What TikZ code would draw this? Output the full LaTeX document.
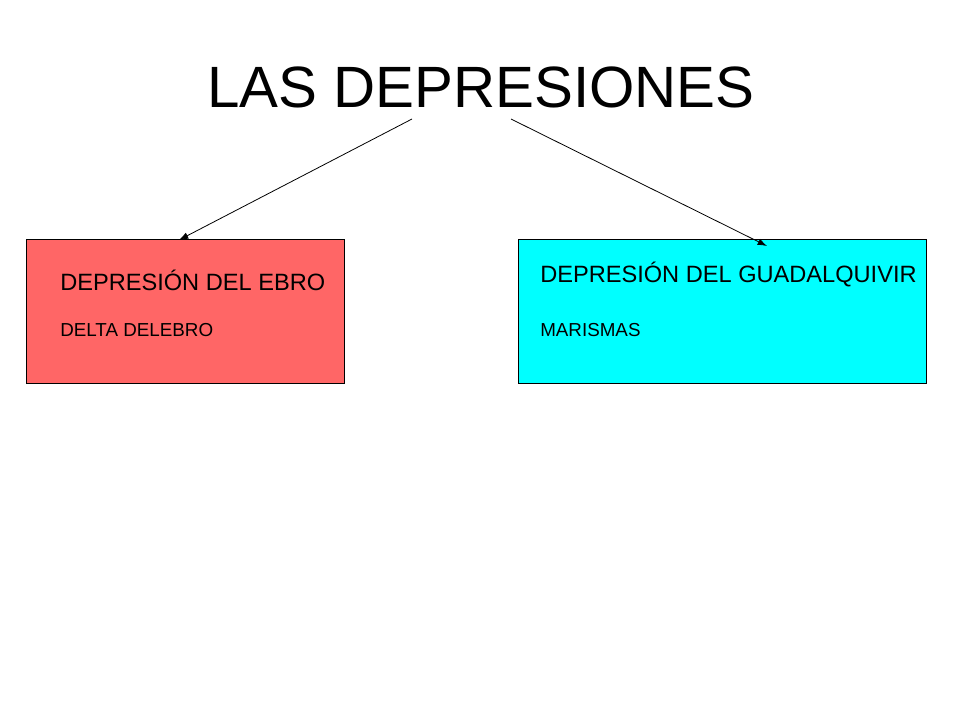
\documentclass[tikz,border=0pt]{standalone}
\usepackage{fontspec}
\setmainfont{Liberation Sans}
\usetikzlibrary{arrows.meta}
\definecolor{boxred}{HTML}{FF6666}
\definecolor{boxcyan}{HTML}{00FFFF}
\begin{document}
\begin{tikzpicture}[x=0.75pt,y=-0.75pt,
  box/.style={draw=black,line width=0.75pt,inner sep=0pt,anchor=north west},
  lbl/.style={anchor=base west,inner sep=0pt},
  big/.style={font=\fontsize{17.7pt}{20pt}\selectfont},
  small/.style={font=\fontsize{14.1pt}{16pt}\selectfont},
  conn/.style={-{Latex[length=7pt,width=5pt]},line width=0.6pt}]
\useasboundingbox (0,0) rectangle (960,720);
\fill[white] (0,0) rectangle (960,720);
\node[anchor=base,inner sep=0pt,font=\fontsize{43.7pt}{50pt}\selectfont] (title) at (481,108) {LAS DEPRESIONES};
\node[box,fill=boxred,minimum width=318*0.75pt,minimum height=144*0.75pt] (ebro) at (26,239) {};
\node[box,fill=boxcyan,minimum width=408*0.75pt,minimum height=144*0.75pt] (guad) at (518,239) {};
\node[lbl,big] (t1) at (60,291) {DEPRESIÓN DEL EBRO};
\node[lbl,small] (t2) at (60,336) {DELTA DELEBRO};
\node[lbl,big] (t3) at (540,283) {DEPRESIÓN DEL GUADALQUIVIR};
\node[lbl,small] (t4) at (540,336) {MARISMAS};
\coordinate (s1) at (412,119);
\coordinate (s2) at (511,119);
\coordinate (e1) at (179,240);
\coordinate (e2) at (767,246);
\draw[conn] (s1) -- (e1);
\draw[conn] (s2) -- (e2);
\end{tikzpicture}
\end{document}
